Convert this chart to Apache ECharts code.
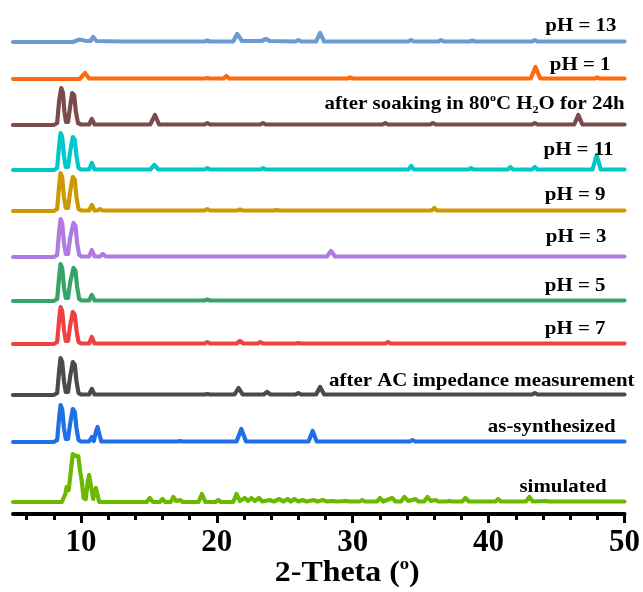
<!DOCTYPE html>
<html><head><meta charset="utf-8">
<script src="https://cdn.jsdelivr.net/npm/echarts@6/dist/echarts.min.js"></script>
<style>html,body{margin:0;padding:0;background:#fff}#c{width:643px;height:592px}</style>
</head><body><div id="c"></div>
<script>
// ---- data: [2-theta, intensity (a.u.)] ----
const ph13 = [[5,0],[9.4,0],[9.9,2.5],[10.4,1],[10.7,1],[10.9,5],[11.15,1],[13,0.5],[17,0.5],[19.1,0.5],[19.3,1.5],[19.5,0.5],[21.2,0.5],[21.5,8],[21.85,1],[23.3,1],[23.6,3],[23.9,1],[25.8,0.5],[26.0,2],[26.2,0.5],[27.3,0.5],[27.6,9],[27.9,0.5],[31,0.5],[34.1,0.5],[34.3,2],[34.5,0.5],[36.3,0.5],[36.5,2],[36.7,0.5],[38.6,0.5],[38.8,1.5],[39.0,0.5],[43.2,0.5],[43.4,2],[43.6,0.5],[50,0.5]];
const ph1 = [[5,0],[9.9,0],[10.3,6],[10.6,0.5],[13,0.5],[19.1,0.5],[19.3,1],[19.5,0.5],[20.5,0.5],[20.7,3],[20.9,0.5],[29.6,0.5],[29.8,1.5],[30,0.5],[43.1,0.5],[43.45,12],[43.8,0.5],[47.8,0.5],[48,1.5],[48.2,0.5],[50,0.5]];
const soaked = [[5,0],[8.0,0],[8.25,2],[8.4,25],[8.55,37],[8.68,32],[8.78,14],[8.9,3],[9.05,3],[9.2,18],[9.35,32],[9.5,30],[9.62,14],[9.78,2],[10,0.5],[10.6,0.5],[10.8,6],[11.0,0.5],[15.1,0.5],[15.45,10],[15.75,0.5],[19.1,0.5],[19.3,2],[19.5,0.5],[23.2,0.5],[23.4,2],[23.6,0.5],[32.2,0.5],[32.4,2],[32.6,0.5],[35.7,0.5],[35.9,2],[36.1,0.5],[43.2,0.5],[43.4,2],[43.6,0.5],[46.3,0.5],[46.6,10],[46.9,0.5],[50,0.5]];
const ph11 = [[5,0],[8.0,0],[8.25,2],[8.4,25],[8.5,37],[8.62,33],[8.75,14],[8.88,3],[9.05,3],[9.2,18],[9.4,33],[9.55,30],[9.67,14],[9.82,2],[10.0,0.5],[10.6,0.5],[10.8,7],[11.0,0.5],[15.1,0.5],[15.4,5],[15.7,0.5],[19.1,0.5],[19.3,2],[19.5,0.5],[23.2,0.5],[23.4,2],[23.6,0.5],[34.1,0.5],[34.3,4],[34.5,0.5],[38.5,0.5],[38.7,2],[38.9,0.5],[41.4,0.5],[41.6,3],[41.8,0.5],[43.2,0.5],[43.4,3],[43.6,0.5],[47.65,0.5],[47.95,15],[48.25,0.5],[50,0.5]];
const ph9 = [[5,0],[8.0,0],[8.25,2],[8.4,26],[8.5,38],[8.62,34],[8.75,14],[8.88,3],[9.05,3],[9.2,19],[9.4,34],[9.55,31],[9.67,14],[9.82,2],[10.0,0.5],[10.6,0.5],[10.8,6],[11.0,0.5],[11.2,0.5],[11.4,2],[11.6,0.5],[19.1,0.5],[19.3,2],[19.5,0.5],[21.5,0.5],[21.7,1.5],[21.9,0.5],[24.2,0.5],[24.4,1],[24.6,0.5],[35.8,0.5],[36.0,3],[36.2,0.5],[50,0.5]];
const ph3 = [[5,0],[8.0,0],[8.25,2],[8.4,26],[8.5,38],[8.62,34],[8.75,14],[8.88,3],[9.05,3],[9.2,19],[9.45,34],[9.6,31],[9.72,14],[9.87,2],[10.05,0.5],[10.6,0.5],[10.8,7],[11.0,0.5],[11.4,0.5],[11.6,3],[11.85,0.5],[28.1,0.5],[28.4,6],[28.7,0.5],[50,0.5]];
const ph5 = [[5,0],[8.0,0],[8.25,2],[8.4,25],[8.5,37],[8.62,33],[8.75,14],[8.88,3],[9.05,3],[9.2,18],[9.45,33],[9.6,30],[9.72,14],[9.87,2],[10.05,0.5],[10.6,0.5],[10.8,6],[11.0,0.5],[19.1,0.5],[19.3,1.5],[19.5,0.5],[50,0.5]];
const ph7 = [[5,0],[8.0,0],[8.25,2],[8.4,25],[8.5,37],[8.62,33],[8.75,14],[8.88,3],[9.05,3],[9.2,18],[9.4,32],[9.55,29],[9.67,14],[9.82,2],[10.0,0.5],[10.6,0.5],[10.8,7],[11.0,0.5],[19.1,0.5],[19.3,2],[19.5,0.5],[21.45,0.5],[21.7,3],[21.95,0.5],[23.0,0.5],[23.2,2],[23.4,0.5],[25.8,0.5],[26.0,1],[26.2,0.5],[32.4,0.5],[32.6,2],[32.8,0.5],[50,0.5]];
const acImp = [[5,0],[8.0,0],[8.25,2],[8.4,25],[8.5,37],[8.62,33],[8.75,14],[8.88,3],[9.05,3],[9.2,18],[9.4,33],[9.55,30],[9.67,14],[9.82,2],[10.0,0.5],[10.6,0.5],[10.8,6],[11.0,0.5],[19.1,0.5],[19.3,1],[19.5,0.5],[21.3,0.5],[21.6,7],[21.9,0.5],[23.45,0.5],[23.7,3],[23.95,0.5],[25.8,0.5],[26.0,2],[26.2,0.5],[27.3,0.5],[27.6,8],[27.9,0.5],[43.2,0.5],[43.4,2],[43.6,0.5],[50,0.5]];
const asSyn = [[5,0],[8.0,0],[8.25,2],[8.4,25],[8.5,37],[8.62,33],[8.75,14],[8.88,3],[9.05,3],[9.2,18],[9.4,33],[9.55,30],[9.67,14],[9.82,2],[10.0,0.5],[10.6,0.5],[10.8,5],[10.95,1],[11.1,10],[11.22,15],[11.35,8],[11.5,0.5],[17.1,0.5],[17.3,1],[17.5,0.5],[21.45,0.5],[21.8,13],[22.15,0.5],[26.75,0.5],[27.05,11],[27.35,0.5],[34.2,0.5],[34.4,2],[34.6,0.5],[50,0.5]];
const simulated = [[5,0],[8.6,0],[8.85,8],[8.95,15],[9.1,12],[9.25,30],[9.4,48],[9.6,46],[9.8,46],[9.95,30],[10.05,22],[10.2,4],[10.35,3],[10.5,20],[10.6,27],[10.75,15],[10.9,3],[11.0,10],[11.1,14],[11.2,8],[11.35,0],[14.85,0],[15.07,4],[15.3,0],[15.8,0],[16.0,3],[16.2,0],[16.6,0],[16.8,5],[17.0,1],[17.3,2],[17.5,0],[18.65,0],[18.9,8],[19.15,0],[19.9,0],[20.1,2],[20.3,0],[21.2,0],[21.45,8],[21.7,1],[22.06,4],[22.3,1],[22.55,4],[22.8,1],[23.1,4],[23.35,0.5],[23.9,2],[24.2,0.5],[24.6,3],[24.9,0.5],[25.2,3],[25.45,0.5],[25.7,3],[26.0,0.5],[26.3,2],[26.6,0.5],[27.1,2],[27.4,0.5],[27.8,2],[28.1,0.5],[28.5,1],[28.8,0.5],[29.5,1],[29.8,0.5],[30.5,0.5],[30.7,2],[30.9,0.5],[31.8,0.5],[32.0,4],[32.25,0.5],[32.9,4],[33.15,0.5],[33.55,0.5],[33.8,5],[34.1,1],[34.6,3],[34.85,0.5],[35.25,0.5],[35.5,5],[35.75,1],[36.1,2],[36.3,0.5],[36.9,0.5],[37.1,1],[37.3,0.5],[38.05,0.5],[38.3,4],[38.55,0.5],[40.5,0.5],[40.7,3],[40.9,0.5],[42.75,0.5],[43.0,5],[43.25,0.5],[44.2,1],[44.4,0.5],[50,0.5]];

const seriesData = [ph13, ph1, soaked, ph11, ph9, ph3, ph5, ph7, acImp, asSyn, simulated];
const seriesNames = ['pH = 13','pH = 1','after soaking in 80{sup|o}C H{sub|2}O for 24h','pH = 11','pH = 9','pH = 3','pH = 5','pH = 7','after AC impedance measurement','as-synthesized','simulated'];
const xTicks = [10, 20, 30, 40, 50];
const xMinorTicks = [6,8,12,14,16,18,22,24,26,28,32,34,36,38,42,44,46,48];

// ---- layout / style ----
const offsets = [472, 435, 389, 344, 303, 257, 213, 170, 119, 72, 12];
const colors = ['#6b9bd2','#ff6a0d','#7b4b4b','#00c8c8','#cc9a00','#b07be0','#36a468','#ee4242','#4a4a4a','#1f70e6','#6cb800'];
const labelRightX = [49.41, 48.97, 50.0, 49.19, 48.6, 48.68, 48.6, 48.6, 50.74, 49.34, 48.68];
const labelDy = [16, 14, 21, 20, 15.5, 19.5, 15, 15, 14, 15, 15];

const FONT = '"Liberation Serif", "Times New Roman", serif';
const chart = echarts.init(document.getElementById('c'), null, {renderer: 'canvas'});

const series = seriesData.map((d, i) => ({
  type: 'line',
  name: 'S' + i,
  data: d.map(p => [p[0], p[1] + offsets[i]]),
  showSymbol: false,
  symbol: 'none',
  smooth: false,
  lineStyle: {color: colors[i], width: 4.2, join: 'round', cap: 'round'},
  itemStyle: {color: colors[i]},
  silent: true,
  z: 2 + (seriesData.length - i)
}));

chart.setOption({
  animation: false,
  backgroundColor: '#fff',
  grid: {left: 13, right: 18, top: 0, bottom: 78, containLabel: false},
  xAxis: [{
    type: 'value', min: 5, max: 50,
    axisLine: {show: true, lineStyle: {color: '#000', width: 4}},
    axisTick: {show: true, customValues: xTicks, length: 9, lineStyle: {color: '#000', width: 3}},
    axisLabel: {show: true, customValues: xTicks, margin: 13, color: '#000', fontFamily: FONT, fontWeight: 'bold', fontSize: 31},
    splitLine: {show: false}
  }, {
    type: 'value', min: 5, max: 50, position: 'bottom',
    axisLine: {show: false},
    axisTick: {show: true, customValues: xMinorTicks, length: 6, lineStyle: {color: '#000', width: 3}},
    axisLabel: {show: false},
    splitLine: {show: false}
  }],
  yAxis: {type: 'value', min: 0, max: 514, show: false},
  series: series
});

function richStyles(size) {
  return {
    sup: {fontFamily: FONT, fontWeight: 'bold', fontSize: Math.round(size * 0.6), verticalAlign: 'top', lineHeight: size * 1.2, fill: '#000'},
    sub: {fontFamily: FONT, fontWeight: 'bold', fontSize: Math.round(size * 0.6), verticalAlign: 'bottom', lineHeight: size * 1.2, fill: '#000'}
  };
}

const graphics = seriesNames.map((t, i) => {
  const p = chart.convertToPixel({xAxisIndex: 0, yAxisIndex: 0}, [labelRightX[i], offsets[i] + labelDy[i]]);
  return {
    type: 'text', x: p[0], y: p[1], scaleX: 1.1, silent: true, z: 50,
    style: {
      text: t, x: 0, y: 0, align: 'right', verticalAlign: 'middle',
      fontFamily: FONT, fontWeight: 'bold', fontSize: 19, lineHeight: 23, fill: '#000',
      rich: richStyles(19)
    }
  };
});
const tp = chart.convertToPixel({xAxisIndex: 0, yAxisIndex: 0}, [29.6, 0]);
graphics.push({
  type: 'text', x: tp[0], y: 574, scaleX: 1.1, silent: true, z: 50,
  style: {
    text: '2-Theta ({sup|o})', x: 0, y: 0, align: 'center', verticalAlign: 'middle',
    fontFamily: FONT, fontWeight: 'bold', fontSize: 29, lineHeight: 34, fill: '#000',
    rich: richStyles(29)
  }
});
chart.setOption({graphic: graphics});
</script>
</body></html>
